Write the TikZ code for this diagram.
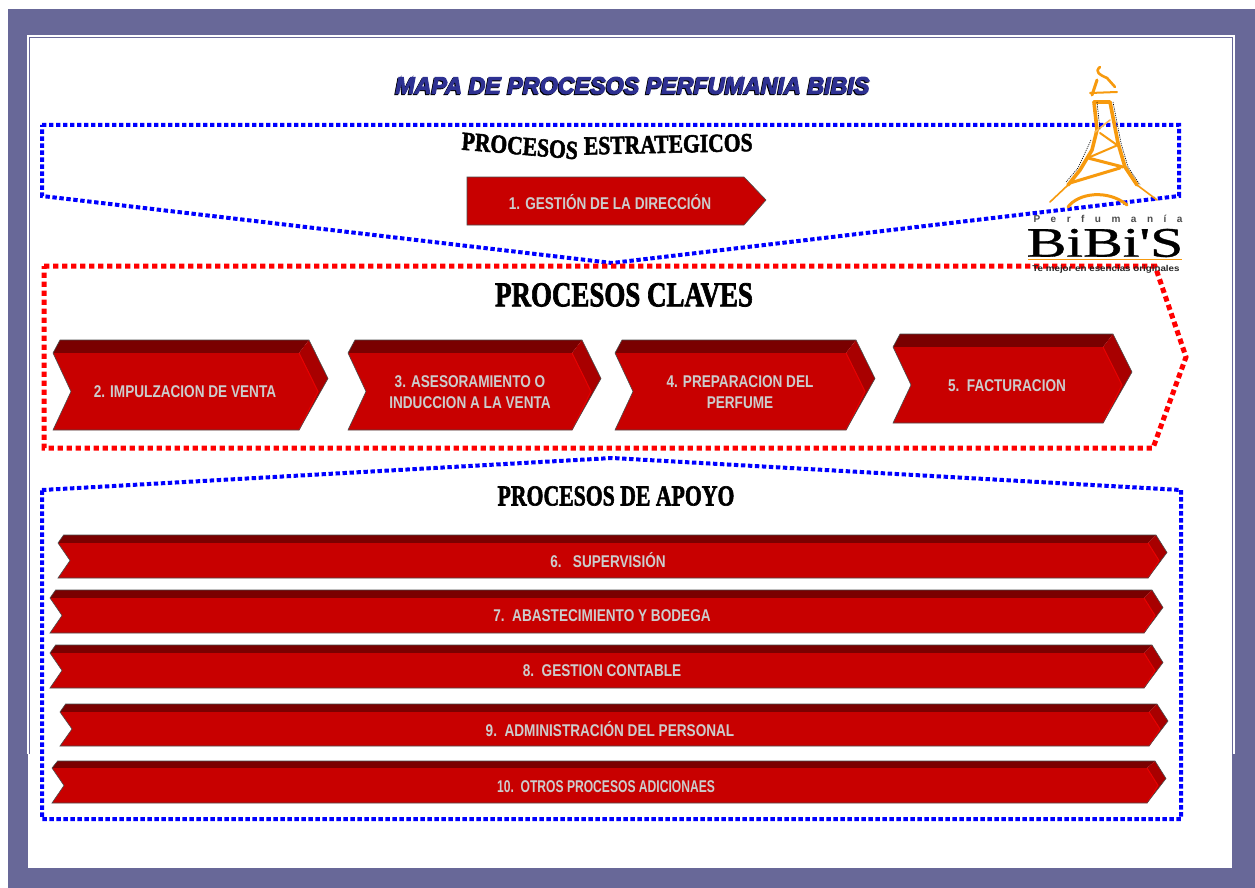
\documentclass[tikz,border=0pt]{standalone}
\usepackage{fontspec}
\setmainfont{Liberation Sans}
\newfontfamily\titlefont[UprightFont=* Bold Italic,FakeBold=4]{Liberation Sans}
\newfontfamily\headfont[UprightFont=* Bold,FakeBold=2.2]{Liberation Serif}
\newfontfamily\labelfont[UprightFont=* Bold]{Liberation Sans}
\newfontfamily\logofont[FakeBold=0.8]{Liberation Serif}
\newfontfamily\logospaced[UprightFont=* Bold,LetterSpace=105]{Liberation Sans}
\definecolor{framepurple}{HTML}{686898}
\definecolor{titleblue}{HTML}{2E3192}
\definecolor{arrowfront}{HTML}{C80000}
\definecolor{arrowtop}{HTML}{7A0000}
\definecolor{arrowside}{HTML}{A80000}
\definecolor{arrowedge}{HTML}{E80000}
\definecolor{labelgrey}{HTML}{CCCCCC}
\definecolor{towerorange}{HTML}{F79A0E}
\tikzset{
  bluebound/.style={draw=blue,line width=4pt,dash pattern=on 4.4pt off 2.6pt},
  redbound/.style={draw=red,line width=5pt,dash pattern=on 5.4pt off 3.6pt},
  biglabel/.style={text=labelgrey,font=\labelfont\fontsize{17}{21}\selectfont,align=center,xscale=0.8,inner sep=0},
  rowlabel/.style={text=labelgrey,font=\labelfont\fontsize{17}{21}\selectfont,align=center,xscale=0.8,inner sep=0},
  headtext/.style={text=black,inner sep=0},
  tower/.style={draw=towerorange,line cap=round,line join=round},
}
% L, R(tip), T, B, depth y, depth x, notch, tip width
\newcommand{\procarrow}[8]{%
  \fill[arrowtop] ({#1},{#3+#5}) -- ({#1+#6*0.7},{#3}) -- ({#2-#8},{#3}) -- ({#2-#8-#6},{#3+#5}) -- cycle;
  \fill[arrowside] ({#2-#8},{#3}) -- ({#2},{(#3+#4-#5)/2}) -- ({#2-#8-#6},{#4}) -- ({#2-#6},{(#3+#5+#4)/2}) -- ({#2-#8-#6},{#3+#5}) -- cycle;
  \fill[arrowfront] ({#1},{#3+#5}) -- ({#1+#7},{(#3+#5+#4)/2}) -- ({#1},{#4}) -- ({#2-#8-#6},{#4}) -- ({#2-#6},{(#3+#5+#4)/2}) -- ({#2-#8-#6},{#3+#5}) -- cycle;
  \draw[arrowedge,line width=1pt] ({#2-#8-#6},{#4}) -- ({#2-#6},{(#3+#5+#4)/2}) -- ({#2-#8-#6},{#3+#5});
  \draw[black!70,line width=.6pt] ({#2-#8-#6},{#4}) -- ({#1},{#4}) -- ({#1+#7},{(#3+#5+#4)/2}) -- ({#1},{#3+#5}) -- ({#1+#6*0.7},{#3}) -- ({#2-#8},{#3}) -- ({#2},{(#3+#4-#5)/2}) -- cycle;
}
\begin{document}
\begin{tikzpicture}[x=1pt,y=-1pt]
\useasboundingbox (0,0) rectangle (1255,888);
\fill[white] (0,0) rectangle (1255,888);
\fill[framepurple] (8,9) rectangle (1255,888);
\fill[white] (28,868) rectangle (1232,754);
\fill[white] (27,35) rectangle (1235,754);
\draw[framepurple,line width=1pt] (29.5,37.5) -- (1232.5,37.5) -- (1232.5,754) (29.5,37.5) -- (29.5,754);
\fill[white] (30,38) rectangle (1232,868);

% title
\node[inner sep=0,text=black,font=\titlefont\fontsize{24}{28}\selectfont,xscale=0.97] (titleshade) at (631.5,86.5) {MAPA DE PROCESOS PERFUMANIA BIBIS};
\node[inner sep=0,text=titleblue,font=\titlefont\fontsize{24}{28}\selectfont,xscale=0.97] (title) at (632.5,85.5) {MAPA DE PROCESOS PERFUMANIA BIBIS};

% boundaries
\draw[bluebound] (42,125) -- (1179,125) -- (1179,196) -- (612,263) -- (42,196) -- cycle;
\draw[redbound] (44,266) -- (1155,266) -- (1186,357) -- (1153,448) -- (44,448) -- cycle;
\draw[bluebound] (42,490) -- (612,458) -- (1181,490) -- (1181,819) -- (42,819) -- cycle;

% headings
\node[headtext,font=\headfont\fontsize{26}{29}\selectfont,xscale=0.83] (h1) at (607,146) {\rotatebox{-4}{PROCESOS} \raisebox{-5pt}{\rotatebox{1}{ESTRATEGICOS}}};
\node[headtext,font=\headfont\fontsize{35}{38}\selectfont,xscale=0.77] (h2) at (624,295) {PROCESOS CLAVES};
\node[headtext,font=\headfont\fontsize{29}{31}\selectfont,xscale=0.75] (h3) at (616,496) {PROCESOS DE APOYO};

% strategic arrow
\fill[arrowfront,draw=black!70,line width=.6pt] (467,177) -- (744,177) -- (766,200) -- (744,225) -- (467,225) -- cycle;
\node[biglabel] (p1) at (610,202) {1. GESTIÓN DE LA DIRECCIÓN};

% key arrows
\procarrow{53}{328}{340}{430}{13}{10}{18}{19}
\node[biglabel] (p2) at (185,392) {2. IMPULZACION DE VENTA};
\procarrow{348}{601}{340}{430}{13}{10}{18}{19}
\node[biglabel] (p3) at (470,392) {3. ASESORAMIENTO O\\INDUCCION A LA VENTA};
\procarrow{615}{875}{340}{430}{13}{10}{18}{19}
\node[biglabel] (p4) at (740,392) {4. PREPARACION DEL\\PERFUME};
\procarrow{893}{1132}{334}{423}{13}{10}{18}{19}
\node[biglabel] (p5) at (1007,386) {5.\ \ FACTURACION};

% support arrows
\procarrow{58}{1167}{535}{578}{8}{8}{12}{11}
\node[rowlabel] (p6) at (608,560.5) {6.\ \ \ SUPERVISIÓN};
\procarrow{50}{1163}{590}{633}{8}{8}{12}{11}
\node[rowlabel] (p7) at (602,615.5) {7.\ \ ABASTECIMIENTO Y BODEGA};
\procarrow{50}{1163}{645}{688}{8}{8}{12}{11}
\node[rowlabel] (p8) at (602,670.5) {8.\ \ GESTION CONTABLE};
\procarrow{60}{1168}{704}{746}{8}{8}{12}{11}
\node[rowlabel] (p9) at (610,729) {9.\ \ ADMINISTRACIÓN DEL PERSONAL};
\procarrow{52}{1166}{761}{803}{7}{8}{12}{11}
\node[rowlabel,xscale=0.89] (p10) at (606,786.5) {10.\ \ OTROS PROCESOS ADICIONAES};

% logo tower
\draw[tower,line width=3.6pt] (1094,102) -- (1097,130) -- (1092,150) -- (1080,170) -- (1068,185);
\draw[tower,line width=3.6pt] (1094,102) -- (1110,102) -- (1118,143) -- (1125,167) -- (1137,185);
\draw[tower,line width=1.6pt] (1068,185) -- (1050,202) (1137,185) -- (1157,200);
\draw[tower,line width=3pt] (1092,95) -- (1097,80);
\draw[tower,line width=2pt] (1090,93) -- (1117,92);
\draw[tower,line width=2.6pt] (1100,67) .. controls (1094,72) and (1100,75) .. (1107,78) -- (1115,87);
\draw[tower,line width=3pt] (1088,158) -- (1123,167) (1070,183) -- (1120,168);
\draw[tower,line width=2pt] (1090,157) -- (1118,145) (1100,133) -- (1117,145);
\draw[towerorange!70,line cap=round,line width=1.6pt] (1095,132) -- (1110,120);
\draw[tower,line width=3pt] (1068,207) .. controls (1078,193) and (1108,189) .. (1127,205);
\draw[black,line width=.6pt,dash pattern=on 1.2pt off 1pt] (1113,102) -- (1121,143) -- (1128,167) -- (1140,185) (1097,102) -- (1100,130) (1091,140) -- (1078,168) -- (1066,182);
% logo text
\node[inner sep=0,text=black!70,font=\logospaced\fontsize{10}{11}\selectfont] (logo1) at (1108,219) {Perfumanía};
\node[inner sep=0,text=black,font=\logofont\fontsize{42}{44}\selectfont,xscale=1.42] (logo2) at (1105,243) {BiBi'S};
\draw[towerorange,line width=.8pt] (1028,259) -- (1182,259);
\node[inner sep=0,text=black!85,font=\labelfont\fontsize{8.5}{10}\selectfont,xscale=1.15] (logo3) at (1106,269) {Te mejor en esencias originales};
\end{tikzpicture}
\end{document}
